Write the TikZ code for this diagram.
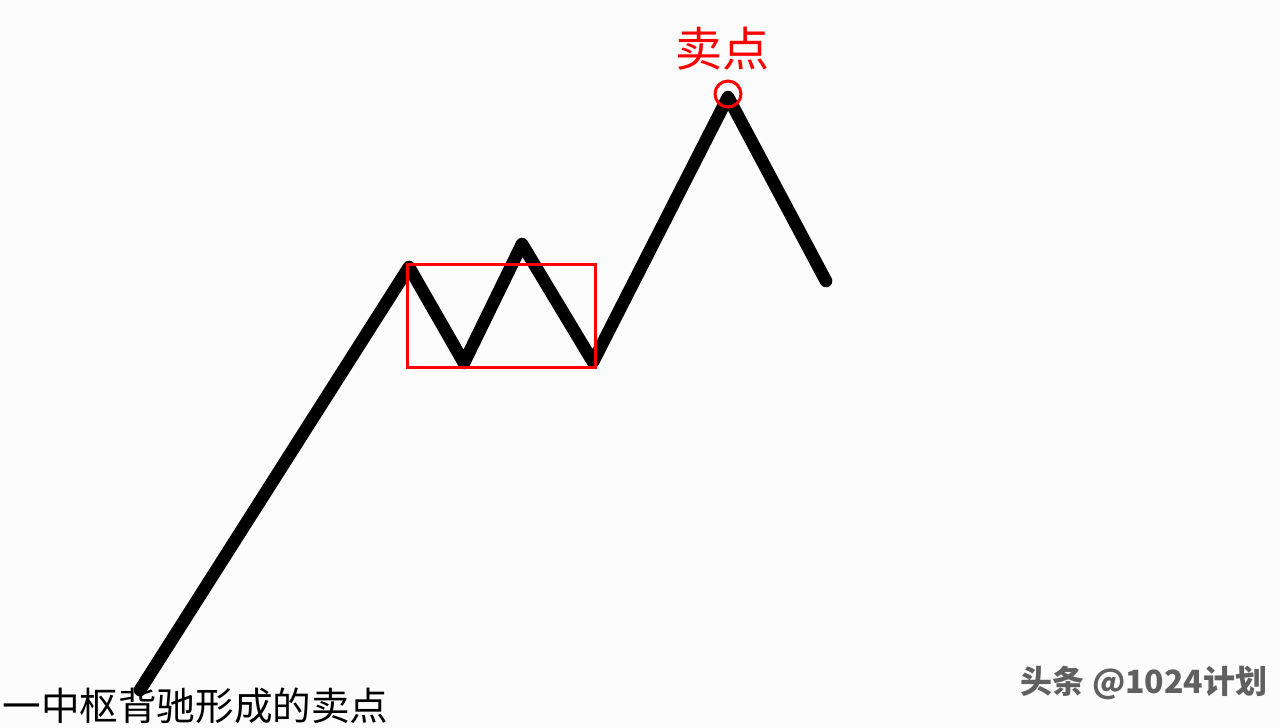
\documentclass[tikz,border=0pt]{standalone}
\usepackage{fontspec}
\newfontfamily\cjk{Noto Sans CJK SC}
\usepackage{tikz}
\usetikzlibrary{positioning}
\definecolor{shuiyin}{HTML}{606060}

\begin{document}
\begin{tikzpicture}[x=0.5pt,y=-0.5pt,
  zoushi/.style={line width=6.3pt,line join=round,line cap=round},
  zhongshu/.style={draw=red,line width=1.5pt},
  biaoqian/.style={inner sep=0pt,font=\cjk}]
\fill[white!99!black] (0,0) rectangle (1280,728);
\useasboundingbox (0,0) rectangle (1280,728);
% turning points of the trend
\coordinate (p0) at (140,690);
\coordinate (p1) at (409,267);
\coordinate (p2) at (464,363);
\coordinate (p3) at (522,244);
\coordinate (p4) at (593,362);
\coordinate (p5) at (728,97);
\coordinate (p6) at (826,281);
\draw[zoushi] (p0) -- (p1) -- (p2) -- (p3) -- (p4) -- (p5) -- (p6);
% pivot zone
\coordinate (zsA) at (407,264);
\coordinate (zsB) at (595,367);
\draw[zhongshu] (zsA) rectangle (zsB);
% sell point
\node[circle,draw=red,line width=1.5pt,minimum size=13pt,inner sep=0pt] (dian) at (728,94) {};
\node[biaoqian,text=red,font=\cjk\fontsize{23.5pt}{23.5pt}\selectfont] (maidian) at (722,49) {卖点};
\node[biaoqian,anchor=west,font=\cjk\fontsize{19.3pt}{19.3pt}\selectfont] (biaoti) at (2,706) {一中枢背驰形成的卖点};
\node[biaoqian,text=shuiyin,font=\cjk\fontsize{16pt}{16pt}\selectfont\bfseries] (shuiyin) at (1144,683) {头条 @1024计划};
\end{tikzpicture}
\end{document}
